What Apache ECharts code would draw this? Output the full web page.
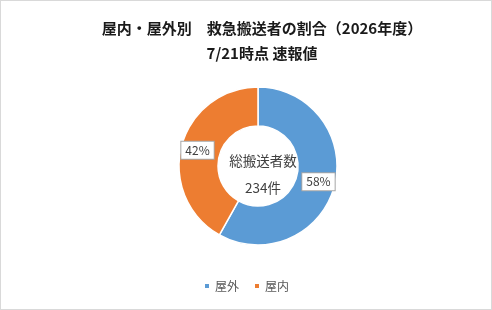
<!DOCTYPE html>
<html>
<head>
<meta charset="utf-8">
<script src="https://cdn.jsdelivr.net/npm/echarts@6/dist/echarts.min.js"></script>
<style>
  html, body { margin: 0; padding: 0; background: #fff; }
  #chart { width: 490px; height: 308px; border: 1px solid #d9d9d9; }
</style>
</head>
<body>
<div id="chart"></div>
<script>
// 屋内・屋外別 救急搬送者数（7/21時点 速報値）
const categories = ['屋外', '屋内']
const counts = [136, 98]
const colors = ['#5b9bd5', '#ed7d31']
const titleLines = ['屋内・屋外別　救急搬送者の割合（2026年度）', '7/21時点 速報値']

const total = counts.reduce((a, b) => a + b, 0)
const font = '"Noto Sans CJK JP", "Noto Sans", sans-serif'

const chart = echarts.init(document.getElementById('chart'), null, { renderer: 'canvas' })
chart.setOption({
  textStyle: { fontFamily: font },
  title: [
    {
      text: titleLines.join('\n'),
      left: 256,
      top: 10,
      textAlign: 'center',
      textStyle: { fontSize: 15, fontWeight: 'bold', color: '#1a1a1a', lineHeight: 25, fontFamily: font }
    },
    {
      text: '総搬送者数\n' + total + '件',
      left: 257,
      top: 141,
      textAlign: 'center',
      textStyle: { fontSize: 13.5, fontWeight: 'normal', color: '#404040', lineHeight: 27, fontFamily: font }
    }
  ],
  legend: {
    bottom: 12,
    left: 'center',
    icon: 'rect',
    itemWidth: 6,
    itemHeight: 6,
    itemGap: 14,
    textStyle: { fontSize: 12, color: '#595959', fontFamily: font }
  },
  color: colors,
  series: [{
    type: 'pie',
    center: [257, 165],
    radius: [40, 79],
    startAngle: 90,
    clockwise: true,
    avoidLabelOverlap: false,
    itemStyle: { borderColor: '#fff', borderWidth: 1.5 },
    label: {
      position: 'inside',
      formatter: p => Math.round(p.percent) + '%',
      backgroundColor: '#fff',
      borderColor: '#a6a6a6',
      borderWidth: 1,
      padding: [3, 4, 2, 4],
      color: '#404040',
      fontSize: 12,
      fontFamily: font
    },
    labelLine: { show: false },
    emphasis: { disabled: true },
    data: categories.map((name, i) => ({ name, value: counts[i] }))
  }]
})
</script>
</body>
</html>
